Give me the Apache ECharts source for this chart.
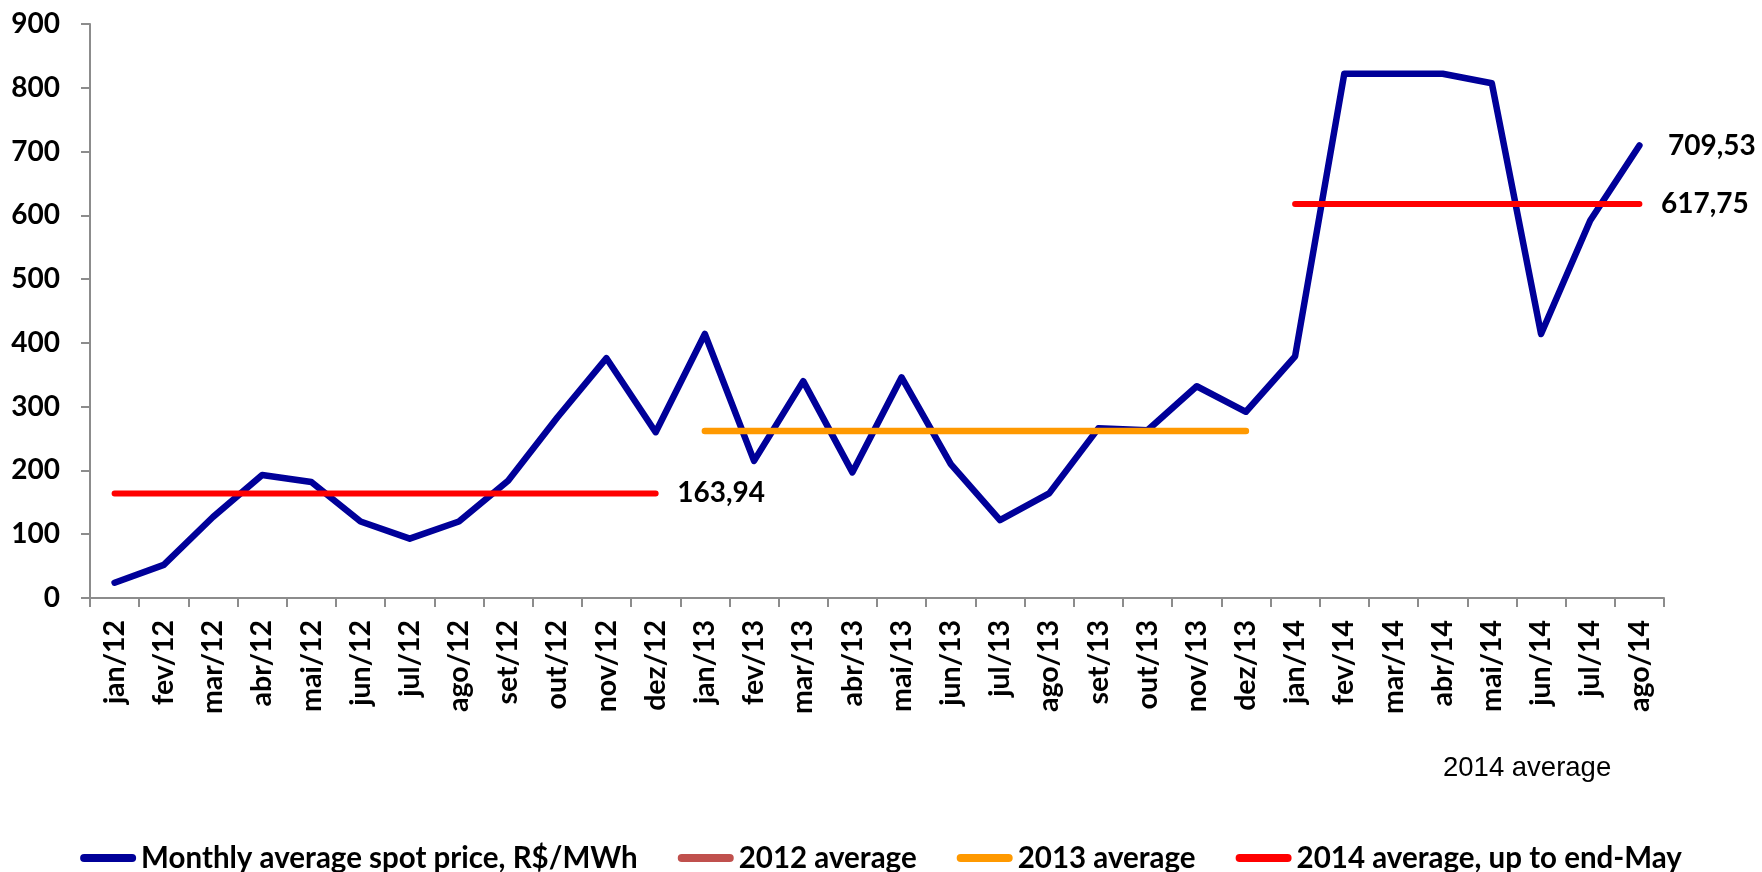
<!DOCTYPE html>
<html>
<head>
<meta charset="utf-8">
<title>Monthly average spot price</title>
<script src="https://cdn.jsdelivr.net/npm/echarts@6/dist/echarts.min.js"></script>
<style>
  html, body { margin: 0; padding: 0; background: #ffffff; }
  #chart { width: 1762px; height: 872px; }
</style>
</head>
<body>
<div id="chart"></div>
<script>
// Months on the category axis
const months = [
  'jan/12', 'fev/12', 'mar/12', 'abr/12', 'mai/12', 'jun/12', 'jul/12', 'ago/12', 'set/12', 'out/12', 'nov/12', 'dez/12',
  'jan/13', 'fev/13', 'mar/13', 'abr/13', 'mai/13', 'jun/13', 'jul/13', 'ago/13', 'set/13', 'out/13', 'nov/13', 'dez/13',
  'jan/14', 'fev/14', 'mar/14', 'abr/14', 'mai/14', 'jun/14', 'jul/14', 'ago/14'
];

// Monthly average spot price, R$/MWh
const spotPrice = [
  24, 52, 127, 193, 182, 120, 93, 120, 184, 283, 376, 260,
  414, 215, 340, 197, 346, 210, 122, 164, 266, 263, 332, 292,
  379, 822, 822, 822, 807, 414, 592, 709.53
];

// Yearly averages and the months each one spans
const avg2012 = 163.94;
const avg2013 = 262;
const avg2014 = 617.75;
const year2012 = '/12';
const year2013 = '/13';
const year2014 = '/14';

// Y-axis ticks
const yTicks = { min: 0, max: 900, step: 100 };

const seriesNames = [
  'Monthly average spot price, R$/MWh',
  '2012 average',
  '2013 average',
  '2014 average, up to end-May'
];

const fmt = v => v.toFixed(2).replace('.', ',');
const FONT = 'Lato';

// Horizontal average line over one year's months, value label on its last month
function yearLine(suffix, value, labelled) {
  const idx = months.map((m, i) => m.endsWith(suffix) ? i : -1).filter(i => i >= 0);
  const last = idx[idx.length - 1];
  return months.map((m, i) => {
    if (!m.endsWith(suffix)) return null;
    if (labelled && i === last) {
      return {
        value: value,
        symbol: 'circle',
        symbolSize: 1,
        itemStyle: { color: 'rgba(0,0,0,0)' },
        label: {
          show: true, position: 'right', distance: 21,
          formatter: () => fmt(value),
          color: '#000', fontFamily: FONT, fontWeight: 'bold', fontSize: 28
        }
      };
    }
    return { value: value, symbol: 'none' };
  });
}

const spotData = spotPrice.map((v, i) => {
  if (i === spotPrice.length - 1) {
    return {
      value: v,
      symbol: 'circle',
      symbolSize: 1,
      itemStyle: { color: 'rgba(0,0,0,0)' },
      label: {
        show: true, position: 'right', distance: 28,
        formatter: () => fmt(v),
        color: '#000', fontFamily: FONT, fontWeight: 'bold', fontSize: 28
      }
    };
  }
  return { value: v, symbol: 'none' };
});

const lineIcon = 'path://M4,0 L52,0 A4,4 0 0 1 52,8 L4,8 A4,4 0 0 1 4,0 Z';

const chart = echarts.init(document.getElementById('chart'), null, { renderer: 'canvas' });

chart.setOption({
  animation: false,
  backgroundColor: '#ffffff',
  grid: { left: 90, right: 98, top: 24, bottom: 274, containLabel: false },
  legend: {
    top: 838,
    left: 'center',
    icon: lineIcon,
    itemWidth: 56,
    itemHeight: 8,
    itemGap: 40,
    textStyle: { color: '#000', fontFamily: FONT, fontWeight: 'bold', fontSize: 29.5 },
    data: [
      { name: seriesNames[0], itemStyle: { color: '#000099' } },
      { name: seriesNames[1], itemStyle: { color: '#C0504D' } },
      { name: seriesNames[2], itemStyle: { color: '#FF9900' } },
      { name: seriesNames[3], itemStyle: { color: '#FF0000' } }
    ]
  },
  xAxis: {
    type: 'category',
    data: months,
    boundaryGap: true,
    axisLine: { show: true, lineStyle: { color: '#8c8c8c', width: 2 } },
    axisTick: { show: true, length: 9, lineStyle: { color: '#8c8c8c', width: 2 } },
    axisLabel: {
      rotate: 90, interval: 0, margin: 22,
      color: '#000', fontFamily: FONT, fontWeight: 'bold', fontSize: 28.5
    },
    splitLine: { show: false }
  },
  yAxis: {
    type: 'value',
    min: yTicks.min, max: yTicks.max, interval: yTicks.step,
    axisLine: { show: true, lineStyle: { color: '#8c8c8c', width: 2 } },
    axisTick: { show: true, length: 9, lineStyle: { color: '#8c8c8c', width: 2 } },
    axisLabel: { margin: 30, color: '#000', fontFamily: FONT, fontWeight: 'bold', fontSize: 28 },
    splitLine: { show: false }
  },
  series: [
    {
      name: seriesNames[0], type: 'line', data: spotData,
      showSymbol: true, connectNulls: false,
      lineStyle: { color: '#000099', width: 6.5, cap: 'round', join: 'round' },
      itemStyle: { color: '#000099' },
      z: 2
    },
    {
      name: seriesNames[1], type: 'line', data: yearLine(year2012, avg2012, true),
      lineStyle: { color: '#FF0000', width: 6, cap: 'round' },
      itemStyle: { color: '#FF0000' },
      z: 3
    },
    {
      name: seriesNames[2], type: 'line', data: yearLine(year2013, avg2013, false),
      lineStyle: { color: '#FF9900', width: 6.5, cap: 'round' },
      itemStyle: { color: '#FF9900' },
      z: 3
    },
    {
      name: seriesNames[3], type: 'line', data: yearLine(year2014, avg2014, true),
      lineStyle: { color: '#FF0000', width: 6, cap: 'round' },
      itemStyle: { color: '#FF0000' },
      z: 3
    }
  ],
  graphic: [
    {
      type: 'text',
      left: 1443,
      top: 754,
      style: {
        text: '2014 average',
        fill: '#000',
        fontFamily: 'Liberation Sans, Arial, sans-serif',
        fontSize: 27.5
      }
    }
  ]
});
</script>
</body>
</html>
